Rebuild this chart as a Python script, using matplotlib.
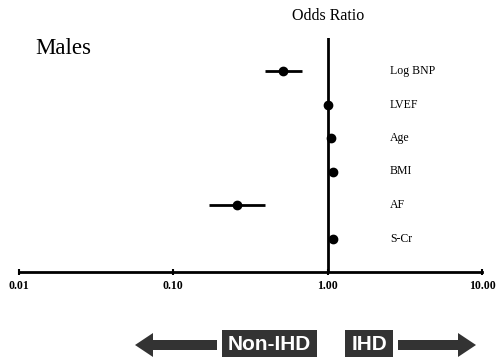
import matplotlib
matplotlib.use("Agg")
import matplotlib.pyplot as plt
from matplotlib.patches import Polygon
import numpy as np

# ── data ──────────────────────────────────────────────────────────────────────
variables = ["Log BNP", "LVEF", "Age", "BMI", "AF", "S-Cr"]
odds_ratio = [0.51, 1.00, 1.05, 1.09, 0.26, 1.09]
ci_low     = [0.39, 0.99, 1.03, 1.06, 0.17, 1.05]
ci_high    = [0.68, 1.01, 1.07, 1.12, 0.39, 1.14]
x_ticks    = [0.01, 0.1, 1.0, 10.0]
x_ticklabels = ["0.01", "0.10", "1.00", "10.00"]

SERIF = ["Liberation Serif", "DejaVu Serif"]
W, H = 498, 359

fig = plt.figure(figsize=(W / 100, H / 100), dpi=100)
ax = fig.add_axes([19 / W, 87 / H, 463 / W, 234.5 / H])

n = len(variables)
ypos = np.arange(n, 0, -1)
or_arr = np.array(odds_ratio)
xerr = [or_arr - np.array(ci_low), np.array(ci_high) - or_arr]

ax.errorbar(odds_ratio, ypos, xerr=xerr, fmt="o", color="black", ms=6,
            elinewidth=2, capsize=0, zorder=3)
ax.axvline(1.0, ymin=0, ymax=1, color="black", lw=2, zorder=2)

ax.set_xscale("log")
ax.set_xlim(0.01, 10)
ax.set_ylim(0, n + 1)
ax.set_yticks([])
for s in ["top", "right", "left"]:
    ax.spines[s].set_visible(False)
ax.spines["bottom"].set_linewidth(2)
ax.set_xticks(x_ticks)
ax.set_xticklabels(x_ticklabels, fontfamily=SERIF, fontsize=8.5, fontweight="bold")
ax.xaxis.set_minor_locator(matplotlib.ticker.NullLocator())
ax.tick_params(axis="x", direction="inout", length=5, width=1.5, pad=3)

for y, lab in zip(ypos, variables):
    ax.text((390 - 19) / 463, y, lab, transform=ax.get_yaxis_transform(),
            ha="left", va="center", fontfamily=SERIF, fontsize=8.5)

fig.text(328 / W, 1 - 16 / H, "Odds Ratio", ha="center", va="center",
         fontfamily=SERIF, fontsize=11.5)
fig.text(35 / W, 1 - 48 / H, "Males", ha="left", va="center",
         fontfamily=SERIF, fontsize=16.5)

# ── direction arrows ──────────────────────────────────────────────────────────
dark = "#333333"

def arrow(x_tail, x_tip, yc, shaft=10, head=24, head_len=18):
    d = 1 if x_tip > x_tail else -1
    xb = x_tip - d * head_len
    pts = [(x_tail, yc - shaft / 2), (xb, yc - shaft / 2), (xb, yc - head / 2),
           (x_tip, yc), (xb, yc + head / 2), (xb, yc + shaft / 2),
           (x_tail, yc + shaft / 2)]
    pts = [(px / W, 1 - py / H) for px, py in pts]
    fig.add_artist(Polygon(pts, closed=True, transform=fig.transFigure,
                           facecolor=dark, edgecolor="none"))

def box(x0, x1, y0, y1):
    pts = [(x0 / W, 1 - y0 / H), (x1 / W, 1 - y0 / H),
           (x1 / W, 1 - y1 / H), (x0 / W, 1 - y1 / H)]
    fig.add_artist(Polygon(pts, closed=True, transform=fig.transFigure,
                           facecolor=dark, edgecolor="none"))

arrow(217, 135, 345)
arrow(398, 476, 345)
box(222, 317, 330, 357)
box(345, 393, 330, 357)

fig.text(269.5 / W, 1 - 344 / H, "Non-IHD", ha="center", va="center",
         color="white", fontfamily="Liberation Sans", fontweight="bold", fontsize=15)
fig.text(369 / W, 1 - 344 / H, "IHD", ha="center", va="center",
         color="white", fontfamily="Liberation Sans", fontweight="bold", fontsize=15)

fig.savefig("out.png", dpi=100)
